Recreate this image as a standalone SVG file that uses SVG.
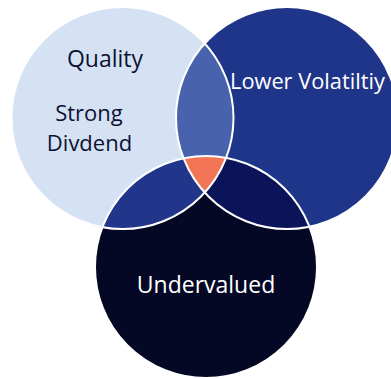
<svg xmlns="http://www.w3.org/2000/svg" width="391" height="379" viewBox="0 0 391 379">
  <style>
    .lbl { font-family: "Open Sans", "Liberation Sans", sans-serif; font-size: 23px; }
    .dark { fill: #0d1233; }
    .light { fill: #ffffff; }
    .edge { fill: none; stroke: #ffffff; stroke-width: 2; }
  </style>
  <defs>
    <circle id="cA" cx="122.5" cy="118" r="111"/>
    <circle id="cB" cx="287" cy="118" r="111"/>
    <circle id="cC" cx="206" cy="267" r="111"/>
    <clipPath id="clipA"><use href="#cA"/></clipPath>
    <clipPath id="clipB"><use href="#cB"/></clipPath>
    <clipPath id="clipC"><use href="#cC"/></clipPath>
  </defs>

  <g id="quality-dividend">
    <use href="#cA" fill="#d5e2f3"/>
  </g>
  <g id="lower-volatility">
    <use href="#cB" fill="#1f3589"/>
  </g>
  <g id="undervalued">
    <use href="#cC" fill="#040825"/>
  </g>

  <g id="overlaps">
    <g clip-path="url(#clipA)"><use href="#cB" fill="#4862ad"/></g>
    <g clip-path="url(#clipA)"><use href="#cC" fill="#21358a"/></g>
    <g clip-path="url(#clipB)"><use href="#cC" fill="#0b1459"/></g>
    <g clip-path="url(#clipA)"><g clip-path="url(#clipB)"><use href="#cC" fill="#f27656"/></g></g>
  </g>

  <g id="outlines">
    <use href="#cA" class="edge"/>
    <use href="#cB" class="edge"/>
    <use href="#cC" class="edge"/>
  </g>

  <g id="labels">
    <text class="lbl dark" x="105" y="66.5" text-anchor="middle">Quality</text>
    <text class="lbl dark" x="89" y="120.5" text-anchor="middle" style="font-size:22px">Strong</text>
    <text class="lbl dark" x="89.5" y="150.8" text-anchor="middle" style="font-size:22px">Divdend</text>
    <text class="lbl light" x="230" y="88.5" style="font-size:21.8px">Lower Volatiltiy</text>
    <text class="lbl light" x="206" y="292.5" text-anchor="middle">Undervalued</text>
  </g>
</svg>
